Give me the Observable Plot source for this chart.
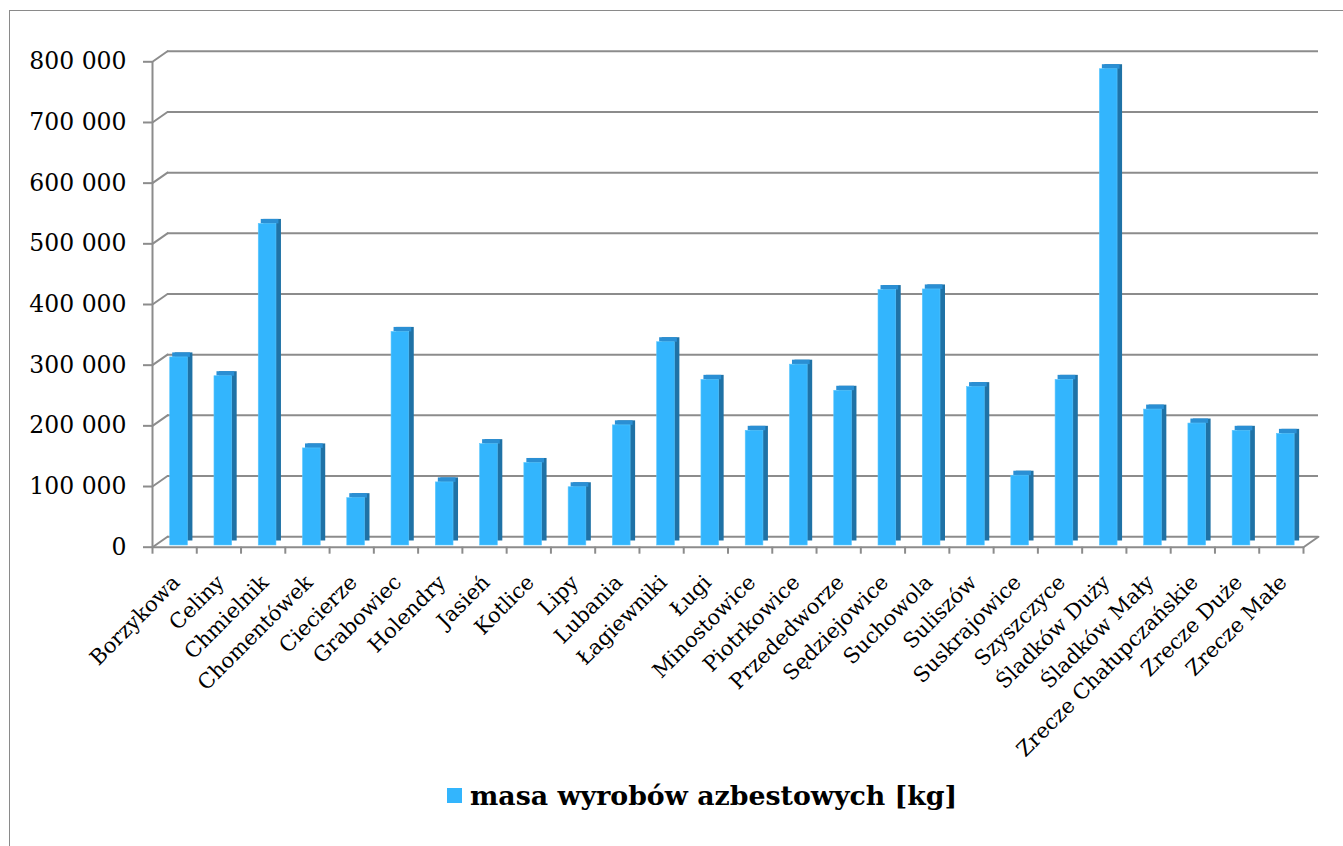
<!DOCTYPE html>
<html>
<head>
<meta charset="utf-8">
<script src="https://cdn.jsdelivr.net/npm/d3@7"></script>
<script src="https://cdn.jsdelivr.net/npm/@observablehq/plot@0.6"></script>
<style>
  html, body { margin: 0; padding: 0; background: #fff; overflow: hidden; }
  body { width: 1343px; height: 846px; position: relative; font-family: "DejaVu Serif", serif; }
  #frame { position: absolute; left: 9px; top: 10px; width: 1400px; height: 900px; border: 1.5px solid #8a8a8a; box-sizing: border-box; }
  #chart { position: absolute; left: 0; top: 0; }
  #legend { position: absolute; left: 447px; top: 780px; display: flex; align-items: center; gap: 8px; font-family: "DejaVu Serif", serif; font-weight: bold; font-size: 26.8px; color: #000; white-space: nowrap; }
  #legend .sw { width: 15px; height: 15px; background: #33b5fd; display: inline-block; }
</style>
</head>
<body>
<div id="frame"></div>
<div id="chart"></div>
<div id="legend"><span class="sw"></span><span>masa wyrobów azbestowych [kg]</span></div>
<script>
const categories = [
  "Borzykowa", "Celiny", "Chmielnik", "Chomentówek", "Ciecierze", "Grabowiec",
  "Holendry", "Jasień", "Kotlice", "Lipy", "Lubania", "Łagiewniki", "Ługi",
  "Minostowice", "Piotrkowice", "Przededworze", "Sędziejowice", "Suchowola",
  "Suliszów", "Suskrajowice", "Szyszczyce", "Śladków Duży", "Śladków Mały",
  "Zrecze Chałupczańskie", "Zrecze Duże", "Zrecze Małe"
];
const values = [
  310000, 279000, 530000, 160000, 78000, 352000,
  104000, 167000, 136000, 96000, 198000, 335000, 273000,
  189000, 298000, 255000, 421000, 422000,
  261000, 115000, 273000, 785000, 224000,
  201000, 189000, 184000
];
const yTicks = [0, 100000, 200000, 300000, 400000, 500000, 600000, 700000, 800000];
const yTickLabels = ["0", "100 000", "200 000", "300 000", "400 000", "500 000", "600 000", "700 000", "800 000"];
const seriesName = "masa wyrobów azbestowych [kg]";

const rows = categories.map((name, i) => ({i, name, v: values[i]}));
const boundaries = d3.range(categories.length + 1).map(k => k - 0.5);

const grid = "#8c8c8c";
const frontColor = "#33b5fd";
const capColor = "#2a8fd4";
const sideColor = "#1f72a6";
const lineShape = {draw(context, l) { context.moveTo(0, 0); context.lineTo(0, -l); }};

const W = 1343, H = 800;
const chart = Plot.plot({
  width: W,
  height: H,
  marginLeft: 152,
  marginRight: W - 1303,
  marginTop: 61.3,
  marginBottom: H - 546.7,
  style: {fontFamily: "DejaVu Serif, serif", background: "transparent", color: "#000"},
  x: {domain: [-0.5, categories.length - 0.5]},
  y: {domain: [0, 800000]},
  marks: [
    // back wall gridlines
    Plot.ruleY(yTicks, {x1: -0.5, x2: categories.length - 0.5, dx: 15, dy: -10.5, stroke: grid, strokeWidth: 2}),
    // side-wall diagonals
    Plot.vector(yTicks, {x: () => -0.5, y: d => d, length: 18.3, rotate: 55, anchor: "start", shape: lineShape, stroke: grid, strokeWidth: 2}),
    Plot.vector([0], {x: () => categories.length - 0.5, y: d => d, length: 18.3, rotate: 55, anchor: "start", shape: lineShape, stroke: grid, strokeWidth: 2}),
    // 3D bars: side block, top cap, front face
    Plot.rectY(rows, {x1: d => d.i - 0.10, x2: d => d.i + 0.30, y1: 0, y2: "v", dx: 5, dy: -6.2, fill: sideColor}),
    Plot.rectY(rows, {x1: d => d.i - 0.10, x2: d => d.i + 0.30, y1: "v", y2: "v", insetTop: -4.5, dx: 2.5, dy: -1.7, fill: capColor}),
    Plot.rectY(rows, {x1: d => d.i - 0.10, x2: d => d.i + 0.30, y1: 0, y2: "v", dy: -1.7, fill: frontColor, stroke: "#5cc8ff", strokeWidth: 0.6}),
    // front axes
    Plot.ruleX([-0.5], {y1: 0, y2: 800000, stroke: grid, strokeWidth: 2}),
    Plot.ruleY([0], {x1: -0.5, x2: categories.length - 0.5, stroke: grid, strokeWidth: 2}),
    Plot.axisY(yTicks, {tickSize: 9, tickFormat: () => "", stroke: grid, strokeWidth: 2, label: null}),
    Plot.axisX(boundaries, {tickSize: 7, tickFormat: () => "", stroke: grid, strokeWidth: 2, label: null}),
    // y tick labels
    Plot.text(yTicks, {frameAnchor: "left", y: d => d, text: (d, i) => yTickLabels[i], textAnchor: "end", dx: -26, fontSize: 23.5, fill: "#000"}),
    // category labels
    Plot.text(rows, {x: "i", y: () => 0, text: "name", rotate: -45, textAnchor: "end", lineAnchor: "top", dx: -4, dy: 26, fontSize: 21, fill: "#000"})
  ]
});
document.getElementById("chart").appendChild(chart);
</script>
</body>
</html>
